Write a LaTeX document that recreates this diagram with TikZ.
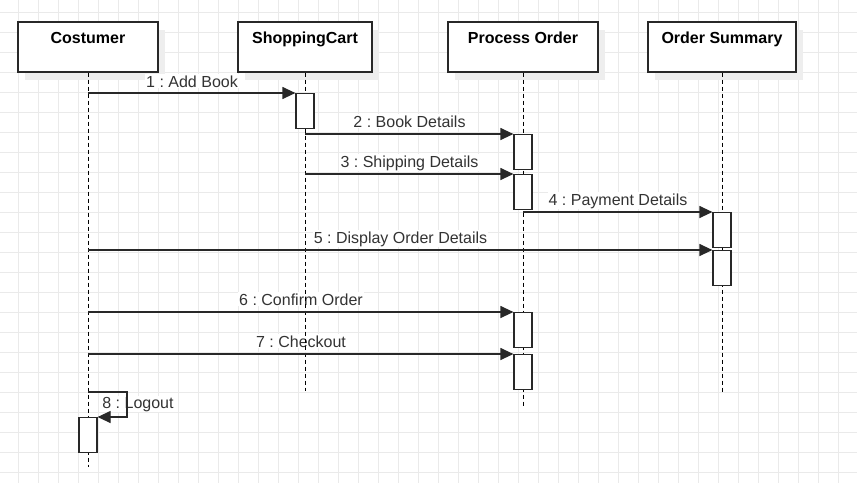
\documentclass[tikz,border=0pt]{standalone}
\usepackage{fontspec}
\setmainfont{Liberation Sans}
\usetikzlibrary{arrows.meta}
\definecolor{gridc}{RGB}{234,234,234}
\definecolor{edge}{RGB}{40,40,40}
\definecolor{lbl}{RGB}{51,51,51}
\definecolor{shadowc}{RGB}{238,238,238}
\frenchspacing
\begin{document}
\begin{tikzpicture}[x=1pt,y=-1pt,
  font=\fontsize{16pt}{19pt}\selectfont,
  hdr/.style={draw=edge,line width=1.3pt,fill=white,rectangle,minimum height=50pt,inner sep=0pt},
  hdrtext/.style={anchor=base,font=\fontsize{16pt}{19pt}\selectfont\bfseries,text=black,inner sep=0pt},
  act/.style={draw=edge,line width=1.2pt,fill=white,rectangle,minimum width=18pt,minimum height=35pt,inner sep=0pt,anchor=north},
  life/.style={black,line width=1pt,dash pattern=on 4pt off 3pt},
  msg/.style={edge,line width=1.2pt,-{Triangle[length=13pt,width=12pt]}},
  mlabel/.style={anchor=base,text=lbl,fill=white,inner sep=1pt}]
\useasboundingbox (0,0) rectangle (857,483);
\fill[white] (0,0) rectangle (857,483);
% grid
\foreach \gx in {18,38,...,858} \draw[gridc,line width=1pt] (\gx,0) -- (\gx,483);
\foreach \gy in {12,32,...,482} \draw[gridc,line width=1pt] (0,\gy) -- (857,\gy);
% header shadows
\foreach \sx/\sw in {88/140,305/134,523/150,722/148}
  \fill[shadowc] (\sx-\sw/2+7,30) rectangle (\sx+\sw/2+7,80);
% headers
\node[hdr,minimum width=140pt] (c) at (88,47) {};
\node[hdr,minimum width=134pt] (s) at (305,47) {};
\node[hdr,minimum width=150pt] (p) at (523,47) {};
\node[hdr,minimum width=148pt] (o) at (722,47) {};
\node[hdrtext] (ct) at (88,43) {Costumer};
\node[hdrtext] (st) at (305,43) {ShoppingCart};
\node[hdrtext] (pt) at (523,43) {Process Order};
\node[hdrtext] (ot) at (722,43) {Order Summary};
% lifeline ends
\coordinate (cend) at (88,467);
\coordinate (send) at (305,391);
\coordinate (pend) at (523,407);
\coordinate (oend) at (722,392);
% labels (behind lifelines)
\node[mlabel] (l1) at (192,87) {1 : Add Book};
\node[mlabel] (l2) at (409.5,127) {2 : Book Details};
\node[mlabel] (l3) at (409.5,167) {3 : Shipping Details};
\node[mlabel] (l4) at (618,205) {4 : Payment Details};
\node[mlabel] (l5) at (400.5,243) {5 : Display Order Details};
\node[mlabel] (l6) at (301,305) {6 : Confirm Order};
\node[mlabel] (l7) at (301,347) {7 : Checkout};
% lifelines
\draw[life] (c.south) -- (cend);
\draw[life] (s.south) -- (send);
\draw[life] (p.south) -- (pend);
\draw[life] (o.south) -- (oend);
% activations
\node[act] (a1) at (305,93) {};
\node[act] (p1) at (523,134) {};
\node[act] (p2) at (523,174) {};
\node[act] (o1) at (722,212) {};
\node[act] (o2) at (722,250) {};
\node[act] (p3) at (523,312) {};
\node[act] (p4) at (523,354) {};
\node[act] (c8) at (88,417) {};
% messages
\draw[msg] (c.south |- a1.north) -- (a1.north west);
\draw[msg] (s.south |- p1.north) -- (p1.north west);
\draw[msg] (s.south |- p2.north) -- (p2.north west);
\draw[msg] (p.south |- o1.north) -- (o1.north west);
\draw[msg] (c.south |- o2.north) -- (o2.north west);
\draw[msg] (c.south |- p3.north) -- (p3.north west);
\draw[msg] (c.south |- p4.north) -- (p4.north west);
% self message
\coordinate (s8) at (88,392);
\node[mlabel] (l8) at (138,408) {8 : Logout};
\draw[msg] (s8) -- ++(39,0) |- (c8.north east);
\end{tikzpicture}
\end{document}
